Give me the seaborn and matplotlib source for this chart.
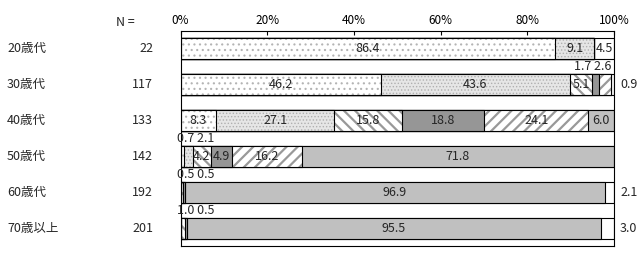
import matplotlib
matplotlib.use("Agg")
import matplotlib.pyplot as plt
import matplotlib.transforms as mtransforms
import numpy as np
import pandas as pd
import seaborn as sns

# ---------------- data ----------------
groups = ["20歳代", "30歳代", "40歳代", "50歳代", "60歳代", "70歳以上"]
n_counts = [22, 117, 133, 142, 192, 201]

sparse_dots = [86.4, 46.2, 8.3, 0.7, 0.0, 0.0]
dense_dots = [9.1, 43.6, 27.1, 2.1, 0.0, 0.0]
back_hatch = [0.0, 5.1, 15.8, 4.2, 0.5, 1.0]
dark_gray = [0.0, 1.7, 18.8, 4.9, 0.5, 0.5]
fwd_hatch = [0.0, 2.6, 24.1, 16.2, 0.0, 0.0]
light_gray = [0.0, 0.0, 6.0, 71.8, 96.9, 95.5]
blank = [4.5, 0.9, 0.0, 0.0, 2.1, 3.0]

tick_values = [0, 20, 40, 60, 80, 100]
tick_labels = ["0%", "20%", "40%", "60%", "80%", "100%"]

series = [sparse_dots, dense_dots, back_hatch, dark_gray, fwd_hatch, light_gray, blank]

# ---------------- style ----------------
sns.set_style("white")
plt.rcParams["font.family"] = ["Noto Sans CJK JP", "DejaVu Sans"]

styles = [
    dict(face="white", hatch="...", hcolor="#b4b4b4", hlw=0.8),
    dict(face="#e6e6e6", hatch=".....", hcolor="#b0b0b0", hlw=0.6),
    dict(face="white", hatch="\\\\\\", hcolor="#999999", hlw=1.6),
    dict(face="#969696", hatch=None, hcolor=None, hlw=1.0),
    dict(face="white", hatch="///", hcolor="#999999", hlw=1.6),
    dict(face="#c0c0c0", hatch=None, hcolor=None, hlw=1.0),
    dict(face="white", hatch=None, hcolor=None, hlw=1.0),
]

FS = 9
fig = plt.figure(figsize=(6.4, 2.6), dpi=100)
ax = fig.add_axes([180.5 / 640, 1 - 246 / 260, 433.5 / 640, 215 / 260])

values = np.array(series)
cum = np.cumsum(values, axis=0)

for k in reversed(range(len(series))):
    st = styles[k]
    df = pd.DataFrame({"group": groups, "value": cum[k]})
    # filled layer
    n0 = len(ax.patches)
    with plt.rc_context({"hatch.linewidth": st["hlw"]}):
        sns.barplot(data=df, x="value", y="group", order=groups, orient="h",
                    width=0.59, color="white", errorbar=None, ax=ax)
        for p in ax.patches[n0:]:
            p.set_facecolor(st["face"])
            p.set_linewidth(0)
            if st["hatch"]:
                p.set_hatch(st["hatch"])
                p.set_edgecolor(st["hcolor"])
            else:
                p.set_edgecolor("none")
    # outline layer
    n0 = len(ax.patches)
    sns.barplot(data=df, x="value", y="group", order=groups, orient="h",
                width=0.59, color="white", errorbar=None, ax=ax)
    for p in ax.patches[n0:]:
        p.set_facecolor("none")
        p.set_edgecolor("black")
        p.set_linewidth(0.8)

ax.set_xlim(0, 100)
ax.set_ylim(5.49, -0.49)
ax.set_xlabel("")
ax.set_ylabel("")
ax.set_yticks([])
ax.set_xticks(tick_values)
ax.set_xticklabels(tick_labels)
ax.tick_params(axis="x", top=True, bottom=False, labeltop=True, labelbottom=False,
               direction="in", length=3, width=0.8, pad=3, labelsize=FS - 0.5, colors="black")
for sp in ax.spines.values():
    sp.set_visible(True)
    sp.set_color("black")
    sp.set_linewidth(0.8)

# ---------------- labels ----------------
for i in range(len(groups)):
    small = []
    for k in range(len(series)):
        v = values[k, i]
        if v <= 0:
            continue
        start = cum[k, i] - v
        center = start + v / 2
        txt = f"{v:.1f}"
        if k == len(series) - 1 and v < 4:
            ax.text(101.4, i, txt, ha="left", va="center", fontsize=FS, clip_on=False)
        elif v < 3:
            small.append((center, txt))
        else:
            ax.text(center, i, txt, ha="center", va="center", fontsize=FS)
    if small:
        s = " ".join(t for _, t in small)
        mean_pos = np.mean([c for c, _ in small])
        if mean_pos < 50:
            ax.text(-0.8, i - 0.49, s, ha="left", va="center", fontsize=FS, clip_on=False)
        else:
            ax.text(99.4, i - 0.49, s, ha="right", va="center", fontsize=FS, clip_on=False)

trans = mtransforms.blended_transform_factory(fig.transFigure, ax.transData)
for i, (g, n) in enumerate(zip(groups, n_counts)):
    ax.text(7 / 640, i, g, transform=trans, ha="left", va="center", fontsize=FS)
    ax.text(153 / 640, i, str(n), transform=trans, ha="right", va="center", fontsize=FS)

fig.text(116 / 640, 1 - 22 / 260, "N =", ha="left", va="center", fontsize=FS)

fig.savefig("out.png", dpi=100)
